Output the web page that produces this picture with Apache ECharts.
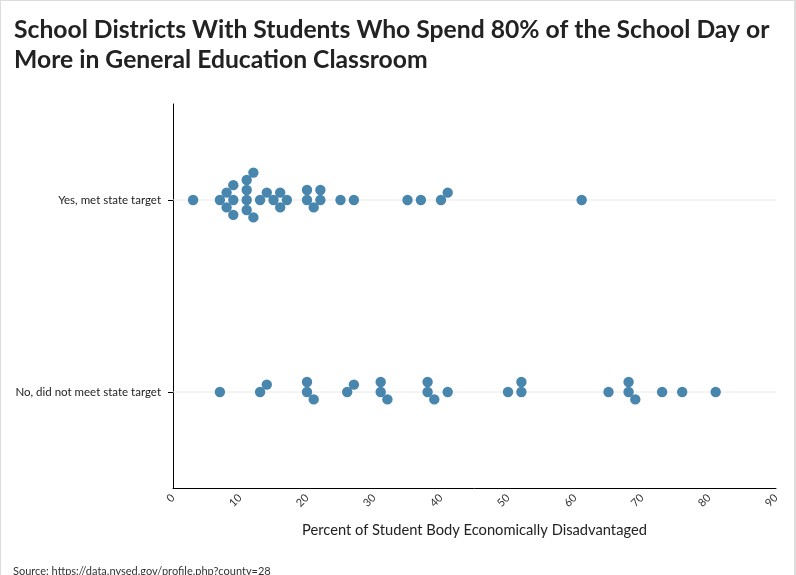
<!DOCTYPE html>
<html><head><meta charset="utf-8">
<script src="https://cdn.jsdelivr.net/npm/echarts@6/dist/echarts.min.js"></script>
<style>
html,body{margin:0;padding:0;background:#fff;overflow:hidden;width:796px;height:575px}
#frame{position:absolute;left:0;top:0;width:793px;height:600px;border-top:1px solid #ddd;border-left:1px solid #ddd;border-right:2px solid #ddd;box-sizing:content-box}
#chart{position:absolute;left:0;top:0;width:796px;height:575px}
</style></head>
<body><div id="frame"></div><div id="chart"></div>
<script>
const categories = ["No, did not meet state target", "Yes, met state target"];
const yesValues = [3, 7, 8, 8, 9, 9, 9, 11, 11, 11, 11, 12, 12, 13, 14, 15, 16, 16, 17, 20, 20, 21, 22, 22, 25, 27, 35, 37, 40, 41, 61];
const noValues = [7, 13, 14, 20, 20, 21, 26, 27, 31, 31, 32, 38, 38, 39, 41, 50, 52, 52, 65, 68, 68, 69, 73, 76, 81];
const xMin = 0, xMax = 90, xInterval = 10;
const titleText = "School Districts With Students Who Spend 80% of the School Day or\nMore in General Education Classroom";
const xAxisName = "Percent of Student Body Economically Disadvantaged";
const sourceText = "Source: https://data.nysed.gov/profile.php?county=28";

const FONT = 'Lato, "Source Sans Pro", "Noto Sans", sans-serif';
const DOT_R = 5.2;
const offsets = { yes: yesValues.map(() => 0), no: noValues.map(() => 0) };

function dodge(xs, d) {
  const order = xs.map((x, i) => i).sort((a, b) => xs[a] - xs[b]);
  const placed = []; const ys = new Array(xs.length).fill(0);
  for (const i of order) {
    const x = xs[i];
    const cands = [0];
    for (const p of placed) {
      const dx = Math.abs(x - p.x);
      if (dx < d) { const h = Math.sqrt(d * d - dx * dx); cands.push(p.y + h, p.y - h); }
    }
    cands.sort((a, b) => (Math.abs(a) - Math.abs(b)) || (a - b));
    for (const y of cands) {
      if (placed.every(p => (p.x - x) ** 2 + (p.y - y) ** 2 >= d * d - 1e-6)) {
        ys[i] = y; placed.push({ x, y }); break;
      }
    }
  }
  return ys;
}

function makeSeries(key, values, cat) {
  return {
    type: 'custom', name: key,
    coordinateSystem: 'cartesian2d',
    data: values.map(v => [v, cat]),
    encode: { x: 0, y: 1 },
    renderItem: function (params, api) {
      const c = api.coord([api.value(0), cat]);
      const off = offsets[key][params.dataIndex] || 0;
      return { type: 'circle', shape: { cx: c[0], cy: c[1] + off, r: DOT_R },
        style: { fill: '#4886ae' } };
    }
  };
}

const chart = echarts.init(document.getElementById('chart'), null, { renderer: 'canvas' });
const option = {
  backgroundColor: 'transparent',
  animation: false,
  title: {
    text: titleText, left: 9, top: 10,
    textStyle: { fontFamily: FONT, fontWeight: 'bold', fontSize: 24.7, lineHeight: 30, color: '#222' }
  },
  grid: { left: 173, right: 20, top: 104, bottom: 87, containLabel: false },
  xAxis: {
    type: 'value', min: xMin, max: xMax, interval: xInterval,
    name: xAxisName, nameLocation: 'middle', nameGap: 35,
    nameTextStyle: { fontFamily: FONT, fontSize: 14.7, color: '#222' },
    axisLine: { show: true, lineStyle: { color: '#000', width: 1 } },
    axisTick: { show: false },
    splitLine: { show: false },
    axisLabel: { rotate: 45, fontFamily: FONT, fontSize: 11, color: '#333', margin: 8 }
  },
  yAxis: {
    type: 'category', data: categories, boundaryGap: true,
    axisLine: { show: true, lineStyle: { color: '#000', width: 1 } },
    axisTick: { show: true, alignWithLabel: true, length: 5, lineStyle: { color: '#000' } },
    axisLabel: { fontFamily: FONT, fontSize: 11.5, color: '#222', margin: 12 },
    splitLine: { show: false }
  },
  graphic: [{
    type: 'text', left: 13, top: 566,
    style: { text: sourceText, fontFamily: FONT, fontSize: 11, fill: '#333' }
  }],
  series: [
    {
      type: 'line', data: [[xMin, categories[1]], [xMax, categories[1]]], symbol: 'none', silent: true,
      lineStyle: { color: '#e8e8e8', width: 1 }, z: 1
    },
    {
      type: 'line', data: [[xMin, categories[0]], [xMax, categories[0]]], symbol: 'none', silent: true,
      lineStyle: { color: '#e8e8e8', width: 1 }, z: 1
    },
    makeSeries('yes', yesValues, categories[1]),
    makeSeries('no', noValues, categories[0])
  ]
};
chart.setOption(option);
const toPx = v => chart.convertToPixel({ xAxisIndex: 0 }, v);
offsets.yes = dodge(yesValues.map(toPx), 2 * DOT_R - 0.4);
offsets.no = dodge(noValues.map(toPx), 2 * DOT_R - 0.4);
chart.setOption(option, true);
</script>
</body></html>
